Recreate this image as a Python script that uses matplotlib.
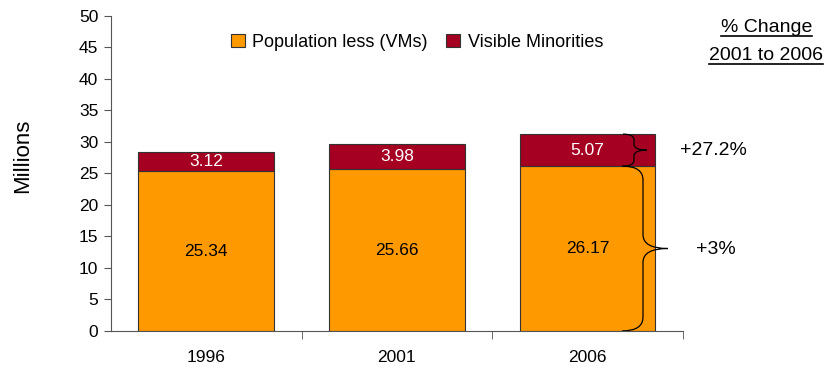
import numpy as np
import matplotlib
matplotlib.use('Agg')
import matplotlib.pyplot as plt
from matplotlib.path import Path
from matplotlib.patches import PathPatch
from matplotlib.lines import Line2D

plt.rcParams['font.family'] = ['Liberation Sans', 'DejaVu Sans']

years = ['1996', '2001', '2006']
pop_less_vm = [25.34, 25.66, 26.17]
visible_min = [3.12, 3.98, 5.07]
series_names = ['Population less (VMs)', 'Visible Minorities']
change_labels = ['+27.2%', '+3%']

orange = '#FF9900'
red = '#A50021'
fs = 12.5


def brace(ax, x0, xs, xt, y0, y1, r):
    # curly brace pointing right, from y0 (bottom) to y1 (top)
    ym = (y0 + y1) / 2.0
    verts = [(x0, y0), (xs, y0), (xs, y0 + r),
             (xs, ym - r),
             (xs, ym), (xt, ym),
             (xs, ym), (xs, ym + r),
             (xs, y1 - r),
             (xs, y1), (x0, y1)]
    codes = [Path.MOVETO, Path.CURVE3, Path.CURVE3,
             Path.LINETO,
             Path.CURVE3, Path.CURVE3,
             Path.CURVE3, Path.CURVE3,
             Path.LINETO,
             Path.CURVE3, Path.CURVE3]
    p = PathPatch(Path(verts, codes), fill=False, lw=0.9, color='black', clip_on=False)
    ax.add_patch(p)


fig = plt.figure(figsize=(8.33, 3.71), dpi=100)
ax = fig.add_axes([0.133, 0.108, 0.687, 0.849])

x = np.arange(len(years))
w = 0.71
ax.bar(x, pop_less_vm, w, color=orange, edgecolor='#333333', lw=0.8, label=series_names[0])
ax.bar(x, visible_min, w, bottom=pop_less_vm, color=red, edgecolor='#333333', lw=0.8,
       label=series_names[1])

for i in range(len(years)):
    ax.text(x[i], pop_less_vm[i] / 2.0, '{:.2f}'.format(pop_less_vm[i]),
            ha='center', va='center', fontsize=fs, color='black')
    ax.text(x[i], pop_less_vm[i] + visible_min[i] / 2.0, '{:.2f}'.format(visible_min[i]),
            ha='center', va='center', fontsize=fs, color='white')

ax.set_xlim(-0.5, 2.5)
ax.set_ylim(0, 50)
ax.set_yticks(np.arange(0, 51, 5))
ax.set_xticks(x)
ax.set_xticklabels(years)
ax.set_xticks([0.5, 1.5, 2.5], minor=True)
ax.tick_params(axis='x', which='major', length=0, pad=14, labelsize=fs)
ax.tick_params(axis='x', which='minor', length=6, color='#555555', direction='out')
ax.tick_params(axis='y', length=5, color='#555555', labelsize=fs, pad=4)
for s in ['top', 'right']:
    ax.spines[s].set_visible(False)
for s in ['left', 'bottom']:
    ax.spines[s].set_color('#555555')
fig.text(23 / 833, 0.58, 'Millions', rotation=90, ha='center', va='center', fontsize=16)

ax.legend(loc='center', bbox_to_anchor=(0.535, 0.917), ncol=2, frameon=False,
          fontsize=13, handlelength=0.8, handleheight=0.8, handletextpad=0.4,
          columnspacing=1.0)

# braces and change labels
top06 = pop_less_vm[2] + visible_min[2]
brace(ax, 2.185, 2.243, 2.31, pop_less_vm[2], top06, 0.9)
brace(ax, 2.18, 2.29, 2.42, 0, pop_less_vm[2], 2.2)
ax.text(2.66, 28.6, change_labels[0], ha='center', va='center', fontsize=14, clip_on=False)
ax.text(2.67, 12.9, change_labels[1], ha='center', va='center', fontsize=14, clip_on=False)

# underlined header
t1 = fig.text(0.92, 1 - 32 / 371, '% Change', ha='center', va='baseline', fontsize=14)
t2 = fig.text(0.92, 1 - 60 / 371, '2001 to 2006', ha='center', va='baseline', fontsize=14)
fig.canvas.draw()
r = fig.canvas.get_renderer()
for t in [t1, t2]:
    bb = t.get_window_extent(r).transformed(fig.transFigure.inverted())
    yb = t.get_position()[1] - 4 / 371
    fig.add_artist(Line2D([bb.x0, bb.x1], [yb, yb], color='black', lw=1.2))

fig.savefig('out.png', dpi=100)
